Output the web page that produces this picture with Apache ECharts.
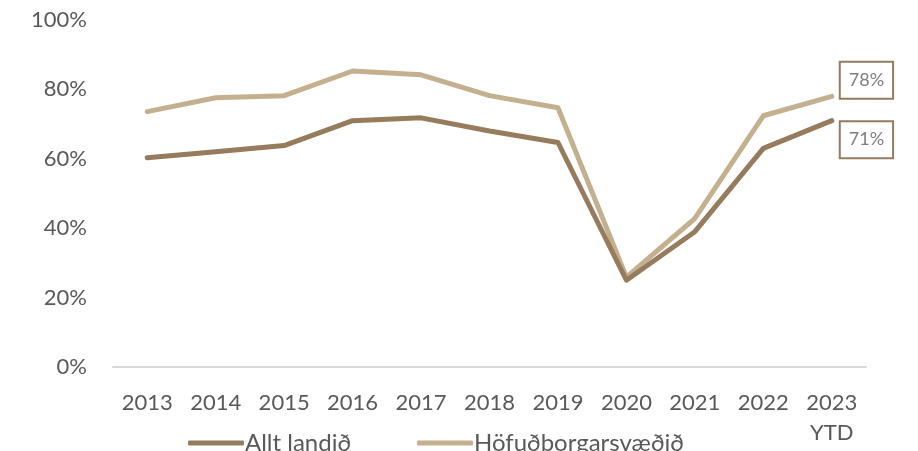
<!DOCTYPE html>
<html>
<head>
<meta charset="utf-8">
<script src="https://cdn.jsdelivr.net/npm/echarts@6/dist/echarts.min.js"></script>
<style>
  html, body { margin: 0; padding: 0; background: #ffffff; }
  #chart { width: 918px; height: 451px; }
</style>
</head>
<body>
<div id="chart"></div>
<script>
// Occupancy share by year (%)
const years = ['2013', '2014', '2015', '2016', '2017', '2018', '2019', '2020', '2021', '2022', '2023\nYTD'];
const alltLandid = [60.3, 62, 63.8, 71, 71.8, 68, 64.7, 25, 39, 63, 71];
const hofudborgarsvaedid = [73.6, 77.6, 78.2, 85.3, 84.2, 78.2, 74.7, 25.9, 42.8, 72.4, 78];
const yTicks = [0, 20, 40, 60, 80, 100];

const darkBrown = '#977b5d';
const lightBrown = '#c4b08f';
const textGrey = '#595959';
const fontFamily = 'Lato, "Open Sans", sans-serif';

function endLabel(offsetY) {
  return {
    show: true,
    distance: 9,
    offset: [0, offsetY],
    formatter: (p) => Math.round(p.value) + '%',
    color: '#7f7f7f',
    fontFamily: fontFamily,
    fontSize: 18,
    backgroundColor: '#ffffff',
    borderColor: darkBrown,
    borderWidth: 2,
    padding: [9, 8, 8, 8]
  };
}

const legendText = { color: textGrey, fontFamily: fontFamily, fontSize: 24, padding: [0, 0, 0, -4] };

const chart = echarts.init(document.getElementById('chart'));
chart.setOption({
  animation: false,
  grid: { left: 113, right: 52, top: 20, bottom: 84 },
  legend: [
    {
      data: ['Allt landið'],
      left: 183, top: 426,
      itemWidth: 56, itemHeight: 5,
      icon: 'roundRect',
      textStyle: legendText
    },
    {
      data: ['Höfuðborgarsvæðið'],
      left: 412, top: 426,
      itemWidth: 56, itemHeight: 5,
      icon: 'roundRect',
      textStyle: legendText
    }
  ],
  xAxis: {
    type: 'category',
    data: years,
    boundaryGap: true,
    axisLine: { lineStyle: { color: '#d9d9d9', width: 2 } },
    axisTick: { show: false },
    axisLabel: {
      color: textGrey,
      fontFamily: fontFamily,
      fontSize: 22,
      margin: 21,
      lineHeight: 30,
      interval: 0
    }
  },
  yAxis: {
    type: 'value',
    min: yTicks[0],
    max: yTicks[yTicks.length - 1],
    interval: 20,
    axisLine: { show: false },
    axisTick: { show: false },
    splitLine: { show: false },
    axisLabel: {
      color: textGrey,
      fontFamily: fontFamily,
      fontSize: 22,
      margin: 26,
      formatter: '{value}%'
    }
  },
  series: [
    {
      name: 'Allt landið',
      type: 'line',
      data: alltLandid,
      symbol: 'none',
      lineStyle: { color: darkBrown, width: 5, cap: 'round', join: 'round' },
      itemStyle: { color: darkBrown },
      endLabel: endLabel(19),
      z: 3
    },
    {
      name: 'Höfuðborgarsvæðið',
      type: 'line',
      data: hofudborgarsvaedid,
      symbol: 'none',
      lineStyle: { color: lightBrown, width: 5, cap: 'round', join: 'round' },
      itemStyle: { color: lightBrown },
      endLabel: endLabel(-16),
      z: 2
    }
  ]
});
</script>
</body>
</html>
